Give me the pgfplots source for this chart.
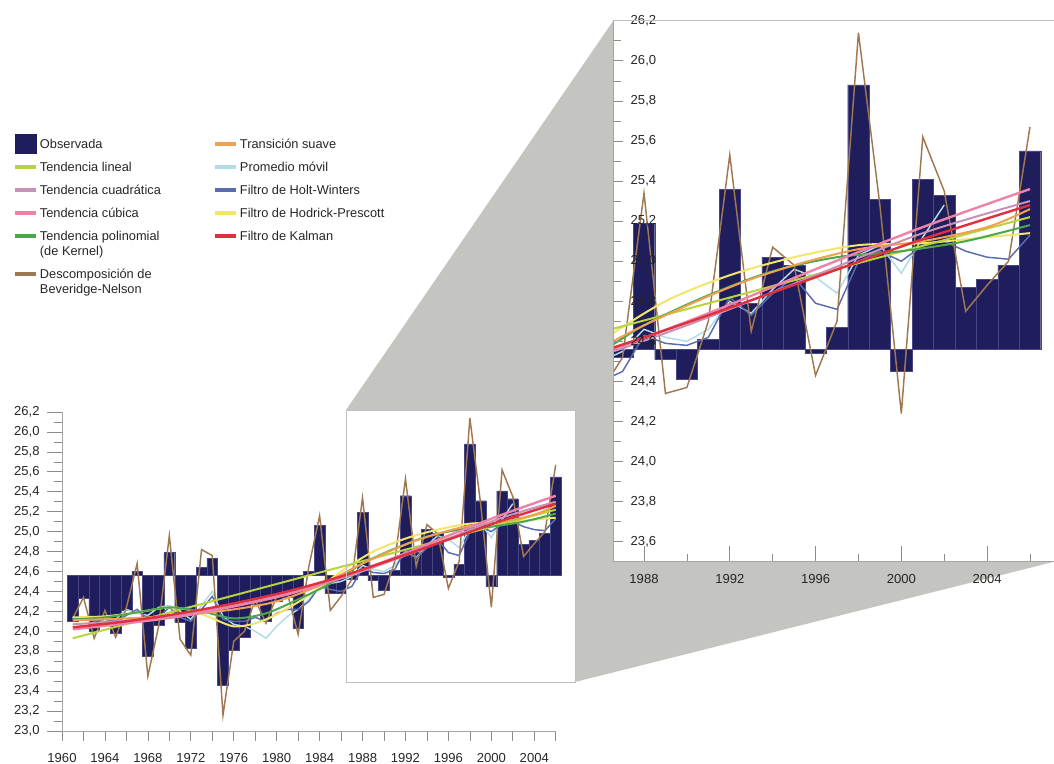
\documentclass[border=0pt]{standalone}
\usepackage{fontspec}
\setmainfont{Liberation Sans}
\usepackage{pgfplots}
\usepackage{pgfplotstable}
\pgfplotsset{compat=1.18}

\definecolor{obs}{RGB}{31,29,92}
\definecolor{obsedge}{RGB}{72,70,132}
\definecolor{bn}{RGB}{160,120,80}
\definecolor{lin}{RGB}{184,212,60}
\definecolor{quad}{RGB}{201,144,184}
\definecolor{cub}{RGB}{238,130,168}
\definecolor{kern}{RGB}{74,168,74}
\definecolor{trans}{RGB}{240,160,80}
\definecolor{mavg}{RGB}{176,220,232}
\definecolor{hw}{RGB}{90,108,176}
\definecolor{hp}{RGB}{242,230,106}
\definecolor{kal}{RGB}{224,48,64}
\definecolor{zoomgray}{RGB}{196,196,192}
\definecolor{frame}{RGB}{165,165,165}
\definecolor{tickc}{RGB}{140,140,140}

% observed annual values (bars, baseline 24.56)
\pgfplotstableread{
year val
1961 24.10
1962 24.33
1963 24.00
1964 24.12
1965 23.98
1966 24.21
1967 24.60
1968 23.75
1969 24.06
1970 24.79
1971 24.09
1972 23.83
1973 24.64
1974 24.73
1975 23.46
1976 23.81
1977 23.94
1978 24.27
1979 24.10
1980 24.30
1981 24.34
1982 24.03
1983 24.60
1984 25.06
1985 24.38
1986 24.38
1987 24.52
1988 25.19
1989 24.51
1990 24.41
1991 24.61
1992 25.36
1993 24.79
1994 25.02
1995 24.98
1996 24.54
1997 24.67
1998 25.88
1999 25.31
2000 24.45
2001 25.41
2002 25.33
2003 24.87
2004 24.91
2005 24.98
2006 25.55
}\tobs

% Beveridge-Nelson
\pgfplotstableread{
year val
1961 24.13
1962 24.34
1963 23.93
1964 24.21
1965 23.94
1966 24.24
1967 24.68
1968 23.55
1969 24.05
1970 24.96
1971 23.92
1972 23.76
1973 24.82
1974 24.76
1975 23.16
1976 23.90
1977 24.00
1978 24.32
1979 24.08
1980 24.35
1981 24.38
1982 23.97
1983 24.65
1984 25.16
1985 24.21
1986 24.35
1987 24.52
1988 25.34
1989 24.34
1990 24.37
1991 24.70
1992 25.53
1993 24.65
1994 25.07
1995 24.98
1996 24.43
1997 24.70
1998 26.14
1999 25.28
2000 24.24
2001 25.62
2002 25.35
2003 24.75
2004 24.88
2005 25.00
2006 25.67
}\tbn

\pgfplotstableread{
year val
1961 23.93
2006 25.22
}\tlin

\pgfplotstableread{
year val
1961 24.07
1966 24.11
1971 24.17
1976 24.26
1981 24.38
1986 24.53
1991 24.72
1996 24.93
2001 25.14
2006 25.30
}\tquad

\pgfplotstableread{
year val
1961 24.02
1966 24.08
1971 24.15
1976 24.25
1981 24.37
1986 24.54
1991 24.74
1996 24.96
2001 25.17
2006 25.36
}\tcub

\pgfplotstableread{
year val
1961 24.04
1966 24.10
1971 24.18
1976 24.28
1981 24.40
1986 24.55
1991 24.73
1996 24.92
2001 25.11
2006 25.28
}\tkal

\pgfplotstableread{
year val
1961 24.12
1964 24.14
1967 24.19
1970 24.24
1973 24.20
1976 24.13
1979 24.18
1982 24.32
1985 24.48
1988 24.68
1991 24.83
1994 24.95
1997 25.02
2000 25.05
2003 25.10
2006 25.18
}\tkern

\pgfplotstableread{
year val
1961 24.11
1966 24.13
1971 24.16
1976 24.22
1980 24.30
1984 24.46
1988 24.68
1992 24.87
1995 24.98
1998 25.06
2001 25.10
2004 25.17
2006 25.26
}\ttrans

\pgfplotstableread{
year val
1961 24.14
1964 24.15
1967 24.19
1970 24.24
1972 24.21
1974 24.13
1976 24.05
1978 24.08
1980 24.17
1983 24.36
1986 24.60
1989 24.80
1992 24.93
1995 25.02
1998 25.08
2001 25.09
2004 25.12
2006 25.14
}\thp

\pgfplotstableread{
year val
1961 24.14
1962 24.12
1963 24.12
1964 24.10
1965 24.12
1966 24.22
1967 24.18
1968 24.16
1969 24.24
1970 24.26
1971 24.20
1972 24.12
1973 24.26
1974 24.40
1975 24.15
1976 24.07
1977 24.05
1978 24.00
1979 23.93
1980 24.05
1981 24.15
1982 24.22
1983 24.32
1984 24.45
1985 24.48
1986 24.50
1987 24.55
1988 24.66
1989 24.62
1990 24.60
1991 24.66
1992 24.80
1993 24.74
1994 24.86
1995 24.96
1996 24.92
1997 24.84
1998 25.03
1999 25.08
2000 24.94
2001 25.12
2002 25.28
}\tma

\pgfplotstableread{
year val
1961 24.12
1962 24.14
1963 24.10
1964 24.12
1965 24.10
1966 24.16
1967 24.22
1968 24.12
1969 24.14
1970 24.24
1971 24.14
1972 24.10
1973 24.22
1974 24.35
1975 24.12
1976 24.10
1977 24.10
1978 24.14
1979 24.10
1980 24.18
1981 24.22
1982 24.22
1983 24.30
1984 24.45
1985 24.42
1986 24.40
1987 24.45
1988 24.63
1989 24.59
1990 24.58
1991 24.62
1992 24.82
1993 24.73
1994 24.84
1995 24.92
1996 24.79
1997 24.76
1998 25.00
1999 25.05
2000 25.00
2001 25.08
2002 25.10
2003 25.05
2004 25.02
2005 25.01
2006 25.13
}\thw

\pgfplotsset{
  chart/.style={
    scale only axis,
    anchor=south west,
    axis on top,
    y coord trafo/.code={\pgfmathparse{##1-24.56}},
    y coord inv trafo/.code={\pgfmathparse{##1+24.56}},
    axis x line*=bottom, axis y line*=left,
    axis line style={draw=frame, line width=0.6pt},
    tick style={draw=tickc, line width=0.5pt},
    ticklabel style={font=\fontsize{9.8}{11}\selectfont, text=black!85},
    /pgf/number format/assume math mode=true,
    xticklabel style={/pgf/number format/1000 sep={}},
    yticklabel style={/pgf/number format/fixed, /pgf/number format/fixed zerofill,
      /pgf/number format/precision=1, /pgf/number format/use comma},
  },
  tr/.style={line width=1.5pt, forget plot},
  lgline/.style={legend image code/.code={\draw[#1, line width=3pt] (0pt,3.2pt) -- (15.75pt,3.2pt);}},
}

\newcommand\lgtext[1]{\parbox[t]{128.25pt}{\raggedright\strut#1\strut}}

\newcommand\allplots{%
  \addplot[ybar, bar width=1, fill=obs, draw=obsedge, line width=0.3pt, forget plot] table[x=year, y=val] {\tobs};
  \addplot[mavg, line width=1.1pt, forget plot] table[x=year, y=val] {\tma};
  \addplot[hw, line width=1.1pt, forget plot] table[x=year, y=val] {\thw};
  \addplot[bn, line width=1.1pt, forget plot] table[x=year, y=val] {\tbn};
  \addplot[hp, tr, smooth] table[x=year, y=val] {\thp};
  \addplot[lin, tr] table[x=year, y=val] {\tlin};
  \addplot[kern, tr, smooth] table[x=year, y=val] {\tkern};
  \addplot[trans, tr, smooth] table[x=year, y=val] {\ttrans};
  \addplot[quad, tr, smooth] table[x=year, y=val] {\tquad};
  \addplot[cub, tr, smooth, line width=1.8pt] table[x=year, y=val] {\tcub};
  \addplot[kal, tr, smooth, line width=1.8pt] table[x=year, y=val] {\tkal};
}

\begin{document}
\begin{tikzpicture}
\useasboundingbox (0,0) rectangle (790.5pt,573pt);
\fill[zoomgray] (259.5pt,265.5pt) -- (460pt,557.5pt) -- (460pt,151.65pt) -- (790.5pt,151.65pt)
  -- (431.25pt,61.5pt) -- (431.25pt,265.5pt) -- cycle;

\begin{axis}[chart,
  at={(46.5pt,24.75pt)},
  width=370.3pt, height=239.25pt,
  xmin=1960, xmax=2006, ymin=23, ymax=26.2,
  clip=false,
  tick align=outside,
  xtick={1960,1964,...,2004}, minor xtick={1962,1966,...,2006},
  ytick={23,23.2,...,26.3}, minor ytick={23.1,23.3,...,26.2},
  xtick style={/pgfplots/major tick length=7.5pt, /pgfplots/minor tick length=7.5pt},
  ytick style={/pgfplots/major tick length=11pt, /pgfplots/minor tick length=6pt},
  xticklabel shift=9pt,
  yticklabel shift=9pt,
  legend columns=2,
  legend style={draw=none, fill=none, inner sep=0pt, outer sep=0pt,
    at={(-0.0993,1.859)}, anchor=north west,
    font=\fontsize{9.6pt}{11.25pt}\selectfont, text=black!85,
    nodes={inner sep=0pt, text depth=},
    cells={anchor=base west},
    column sep=1.5pt, row sep=6pt},
]
\addlegendimage{legend image code/.code={\fill[obs,overlay] (0pt,-3.8pt) rectangle (15.75pt,10.45pt); \path[draw=none,fill=none] (0pt,0pt) -- (15.75pt,0pt);}}
\addlegendentry{\lgtext{Observada}}
\addlegendimage{lgline=trans}
\addlegendentry{\lgtext{Transición suave}}
\addlegendimage{lgline=lin}
\addlegendentry{\lgtext{Tendencia lineal}}
\addlegendimage{lgline=mavg}
\addlegendentry{\lgtext{Promedio móvil}}
\addlegendimage{lgline=quad}
\addlegendentry{\lgtext{Tendencia cuadrática}}
\addlegendimage{lgline=hw}
\addlegendentry{\lgtext{Filtro de Holt-Winters}}
\addlegendimage{lgline=cub}
\addlegendentry{\lgtext{Tendencia cúbica}}
\addlegendimage{lgline=hp}
\addlegendentry{\lgtext{Filtro de Hodrick-Prescott}}
\addlegendimage{lgline=kern}
\addlegendentry{\lgtext{Tendencia polinomial\\(de Kernel)}}
\addlegendimage{lgline=kal}
\addlegendentry{\lgtext{Filtro de Kalman}}
\addlegendimage{lgline=bn}
\addlegendentry{\lgtext{Descomposición de\\Beveridge-Nelson}}
\allplots
\end{axis}

\draw[frame!70, line width=0.6pt] (259.5pt,61.5pt) rectangle (431.25pt,265.5pt);

\begin{axis}[chart,
  at={(460pt,151.65pt)},
  width=330.5pt, height=405.8pt,
  xmin=1986.57, xmax=2007.12, ymin=23.5, ymax=26.2,
  tick align=inside,
  xtick={1988,1992,...,2004}, minor xtick={1990,1994,...,2006},
  ytick={23.6,23.8,...,26.3}, minor ytick={23.5,23.7,...,26.2},
  xtick style={/pgfplots/major tick length=12pt, /pgfplots/minor tick length=6pt},
  ytick style={/pgfplots/major tick length=7.5pt, /pgfplots/minor tick length=6pt},
  yticklabel style={anchor=west, xshift=9.5pt},
  xticklabel shift=6pt,
]
\allplots
\end{axis}
\draw[frame!70, line width=0.6pt] (460pt,557.5pt) -- (790.5pt,557.5pt);
\end{tikzpicture}
\end{document}
